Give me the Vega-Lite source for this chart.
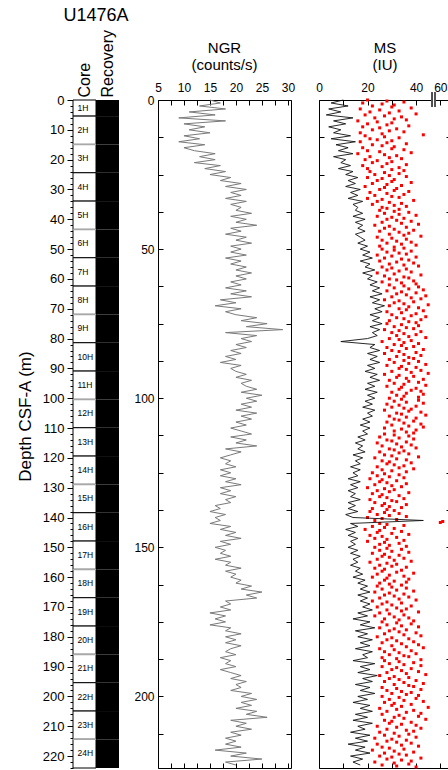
{
  "$schema": "https://vega.github.io/schema/vega-lite/v6.json",
  "autosize": {"type": "none"},
  "padding": {"left": 73, "top": 100, "right": 375, "bottom": 2},
  "background": "white",
  "config": {
    "font": "Liberation Sans",
    "view": {"stroke": "black", "strokeWidth": 1},
    "axis": {"grid": false, "labelColor": "black", "tickColor": "black", "titleColor": "black", "labelFlush": false, "labelOverlap": false, "domain": false},
    "title": {"fontWeight": "normal", "color": "black"}
  },
  "data": {
    "values": "d,n,m,a,b,c\n0,15,10,20,28,35\n1,17,5,18,26,31\n2,13,12,22,30,38\n3,18,4,17,25,33\n4,11,9,21,29,40\n5,16,3,19,27,34\n6,9,14,23,31,36\n7,18,6,16,24,30\n8,10,11,20,28,37\n9,14,4,18,25,32\n10,11,9,22,29,35\n11,15,6,17,26,43\n12,10,13,19,27,33\n13,13,5,21,24,30\n14,9,15,17,28,36\n15,14,7,22,26,31\n16,10,12,18,30,35\n17,12,8,20,25,38\n18,16,14,16,27,32\n19,13,6,21,29,34\n20,16,11,19,24,30\n21,12,9,22,28,36\n22,17,13,18,26,33\n23,14,8,20,30,35\n24,18,14,21,27,33\n25,15,11,23,29,36\n26,19,16,20,26,31\n27,17,12,24,30,38\n28,21,15,22,28,34\n29,18,11,19,27,32\n30,22,17,25,31,37\n31,19,13,21,28,35\n32,21,16,23,30,33\n33,18,12,20,26,39\n34,22,18,24,29,34\n35,19,14,22,31,36\n36,21,16,26,28,33\n37,20,15,25,31,37\n38,23,18,27,33,40\n39,19,14,24,30,35\n40,22,19,28,32,38\n41,20,15,26,34,41\n42,24,18,23,29,36\n43,19,16,27,31,39\n44,21,19,25,33,37\n45,18,15,29,35,42\n46,22,17,24,30,36\n47,20,19,26,32,38\n48,23,16,28,34,40\n49,19,20,25,31,35\n50,21,17,26,31,38\n51,19,21,28,33,36\n52,22,18,24,30,40\n53,18,22,27,34,37\n54,21,17,25,32,39\n55,19,21,29,35,41\n56,22,19,26,30,36\n57,20,23,28,33,38\n58,23,18,24,31,42\n59,20,22,27,35,37\n60,22,20,29,32,39\n61,19,24,26,34,40\n62,21,21,29,35,41\n63,18,25,31,37,43\n64,22,22,28,34,40\n65,19,26,32,36,44\n66,23,21,30,38,42\n67,17,25,27,33,39\n68,20,22,31,35,45\n69,16,27,29,37,41\n70,21,23,33,36,43\n71,18,26,28,34,40\n72,20,21,30,38,44\n73,24,25,32,35,42\n74,21,22,29,37,40\n75,26,26,28,34,41\n76,22,21,31,36,39\n77,29,25,27,33,42\n78,18,22,30,35,40\n79,24,24,32,37,44\n80,21,20,29,33,38\n81,23,9,26,35,41\n82,20,23,31,34,39\n83,22,21,28,36,43\n84,19,25,30,33,40\n85,21,20,27,35,42\n86,18,24,32,37,39\n87,20,21,29,35,41\n88,17,25,31,37,44\n89,21,20,28,34,40\n90,19,23,33,36,42\n91,20,19,30,38,45\n92,22,24,27,33,39\n93,20,21,32,36,43\n94,23,25,29,37,41\n95,21,20,31,35,44\n96,22,23,28,34,40\n97,24,19,33,38,42\n98,21,24,30,36,43\n99,25,20,32,35,41\n100,22,23,29,34,41\n101,24,19,31,36,43\n102,21,22,28,33,40\n103,23,18,30,35,38\n104,20,23,27,37,42\n105,24,20,32,34,44\n106,21,22,29,36,40\n107,23,18,31,33,39\n108,20,21,28,35,42\n109,22,17,30,37,43\n110,19,21,27,34,40\n111,21,18,31,36,39\n112,23,20,27,31,37\n113,19,16,25,33,39\n114,22,19,28,30,36\n115,20,15,24,32,38\n116,24,18,26,34,40\n117,18,16,29,31,35\n118,21,19,25,33,37\n119,19,14,27,30,41\n120,17,18,23,32,36\n121,19,15,26,29,38\n122,18,17,28,31,35\n123,20,13,24,33,39\n124,17,17,26,30,36\n125,19,14,22,27,33\n126,17,16,24,29,35\n127,20,12,21,26,32\n128,18,17,25,28,36\n129,21,13,23,30,34\n130,17,16,20,27,31\n131,19,12,24,29,37\n132,17,15,22,26,33\n133,20,13,25,28,35\n134,18,17,21,30,32\n135,19,12,23,27,36\n136,16,15,26,29,34\n137,17,12,22,28,31\n138,15,16,21,27,33\n139,18,11,24,29,36\n140,16,14,20,26,32\n141,17,43,23,51,50\n142,15,13,25,28,35\n143,19,16,22,27,31\n144,17,11,19,25,34\n145,20,15,24,30,37\n146,18,12,21,26,32\n147,21,16,23,28,35\n148,17,13,20,27,33\n149,19,15,25,29,36\n150,16,12,23,28,34\n151,18,16,25,30,37\n152,17,13,22,27,33\n153,19,17,26,29,35\n154,16,14,24,31,38\n155,19,16,21,28,32\n156,18,13,25,30,36\n157,21,17,23,27,34\n158,18,15,26,32,39\n159,20,18,24,29,35\n160,19,14,22,28,37\n161,21,19,27,31,36\n162,20,16,25,29,34\n163,23,20,24,30,36\n164,21,17,26,32,39\n165,25,21,23,29,35\n166,22,16,27,31,37\n167,24,20,25,33,40\n168,18,17,22,28,34\n169,19,21,26,30,38\n170,17,18,24,32,36\n171,19,22,28,34,41\n172,15,16,25,29,35\n173,18,20,23,31,37\n174,16,14,27,33,39\n175,18,21,26,32,38\n176,15,17,28,34,41\n177,19,23,25,31,36\n178,18,15,29,33,40\n179,21,20,27,35,42\n180,18,16,24,30,37\n181,20,22,28,32,39\n182,18,17,26,34,41\n183,21,21,30,36,43\n184,19,15,25,31,38\n185,18,22,27,33,40\n186,20,18,29,35,37\n187,17,20,26,32,42\n188,19,14,27,33,39\n189,18,23,29,35,42\n190,20,17,26,32,38\n191,17,21,30,34,41\n192,19,16,28,36,44\n193,21,24,25,31,37\n194,19,18,29,33,40\n195,22,22,27,35,43\n196,20,15,31,37,39\n197,21,21,26,32,42\n198,19,17,28,34,38\n199,23,23,30,36,41\n200,21,16,26,33,40\n201,24,20,29,35,43\n202,21,14,27,31,38\n203,23,21,30,34,45\n204,20,17,25,32,39\n205,24,22,28,36,42\n206,22,15,26,33,41\n207,26,20,31,35,44\n208,19,14,27,30,38\n209,22,22,29,34,40\n210,20,16,24,32,42\n211,23,19,28,36,39\n212,19,13,25,31,37\n213,21,21,27,33,40\n214,18,15,23,30,36\n215,20,20,28,32,38\n216,18,12,24,34,41\n217,21,19,26,29,35\n218,16,15,22,31,39\n219,22,21,27,33,36\n220,19,13,25,30,42\n221,25,18,28,34,38\n222,18,14,23,31,37\n223,20,17,26,32,40",
    "format": {"type": "csv", "parse": {"d": "number", "n": "number", "m": "number", "a": "number", "b": "number", "c": "number"}}
  },
  "bounds": "flush",
  "spacing": 39,
  "hconcat": [
    {
      "width": 46,
      "height": 668,
      "view": {"stroke": null},
      "title": {"text": "U1476A", "fontSize": 18, "offset": 4},
      "data": {
        "values": [
          {"core": "1H", "top": 0, "bot": 5.4, "edge": "black"},
          {"core": "2H", "top": 5.4, "bot": 14.9, "edge": "black"},
          {"core": "3H", "top": 14.9, "bot": 24.4, "edge": "gray"},
          {"core": "4H", "top": 24.4, "bot": 33.9, "edge": "black"},
          {"core": "5H", "top": 33.9, "bot": 43.4, "edge": "black"},
          {"core": "6H", "top": 43.4, "bot": 52.9, "edge": "gray"},
          {"core": "7H", "top": 52.9, "bot": 62.4, "edge": "black"},
          {"core": "8H", "top": 62.4, "bot": 71.9, "edge": "black"},
          {"core": "9H", "top": 71.9, "bot": 81.4, "edge": "gray"},
          {"core": "10H", "top": 81.4, "bot": 90.9, "edge": "black"},
          {"core": "11H", "top": 90.9, "bot": 100.4, "edge": "black"},
          {"core": "12H", "top": 100.4, "bot": 109.9, "edge": "gray"},
          {"core": "13H", "top": 109.9, "bot": 119.4, "edge": "black"},
          {"core": "14H", "top": 119.4, "bot": 128.9, "edge": "black"},
          {"core": "15H", "top": 128.9, "bot": 138.4, "edge": "gray"},
          {"core": "16H", "top": 138.4, "bot": 147.9, "edge": "black"},
          {"core": "17H", "top": 147.9, "bot": 157.4, "edge": "black"},
          {"core": "18H", "top": 157.4, "bot": 166.9, "edge": "gray"},
          {"core": "19H", "top": 166.9, "bot": 176.4, "edge": "black"},
          {"core": "20H", "top": 176.4, "bot": 185.9, "edge": "black"},
          {"core": "21H", "top": 185.9, "bot": 195.4, "edge": "gray"},
          {"core": "22H", "top": 195.4, "bot": 204.9, "edge": "black"},
          {"core": "23H", "top": 204.9, "bot": 214.4, "edge": "black"},
          {"core": "24H", "top": 214.4, "bot": 224, "edge": "gray"}
        ]
      },
      "layer": [
        {
          "mark": {"type": "rect", "fill": "black"},
          "encoding": {
            "x": {"datum": "Recovery", "type": "nominal",
              "scale": {"domain": ["Core", "Recovery"], "paddingInner": 0, "paddingOuter": 0},
              "axis": {"orient": "top", "title": null, "labelAngle": -90, "labelFontSize": 16, "ticks": false, "labelPadding": 3}},
            "y": {"field": "top", "type": "quantitative", "scale": {"domain": [0, 224], "reverse": true, "nice": false},
              "axis": {"orient": "left", "values": [0, 10, 20, 30, 40, 50, 60, 70, 80, 90, 100, 110, 120, 130, 140, 150, 160, 170, 180, 190, 200, 210, 220],
                "title": "Depth CSF-A (m)", "titleFontSize": 17, "titleFontWeight": "normal", "titlePadding": 8, "titleY": 316,
                "labelFontSize": 13, "tickSize": 6, "labelPadding": 3}},
            "y2": {"field": "bot"}
          }
        },
        {
          "mark": {"type": "rect", "fill": "white", "stroke": "black", "strokeWidth": 1},
          "encoding": {
            "x": {"datum": "Core", "type": "nominal"},
            "y": {"field": "top", "type": "quantitative",
              "axis": {"orient": "left", "tickCount": 112, "labels": false, "title": null, "tickSize": 3}},
            "y2": {"field": "bot"}
          }
        },
        {
          "transform": [{"filter": "datum.edge === 'gray'"}],
          "mark": {"type": "rect", "stroke": "#a8a8a8", "strokeWidth": 1.5},
          "encoding": {
            "x": {"datum": "Core", "type": "nominal"},
            "y": {"field": "top", "type": "quantitative", "axis": null},
            "y2": {"field": "top"}
          }
        },
        {
          "transform": [{"filter": "datum.core !== '1H'"}],
          "mark": {"type": "text", "align": "left", "baseline": "middle", "dx": -7, "dy": 14, "fontSize": 8.5, "fill": "black"},
          "encoding": {
            "x": {"datum": "Core", "type": "nominal"},
            "y": {"field": "top", "type": "quantitative", "axis": null},
            "text": {"field": "core"}
          }
        },
        {
          "transform": [{"filter": "datum.core === '1H'"}],
          "mark": {"type": "text", "align": "left", "baseline": "middle", "dx": -7, "dy": 8, "fontSize": 8.5, "fill": "black"},
          "encoding": {
            "x": {"datum": "Core", "type": "nominal"},
            "y": {"field": "top", "type": "quantitative", "axis": null},
            "text": {"field": "core"}
          }
        }
      ],
      "resolve": {"axis": {"y": "independent"}}
    },
    {
      "bounds": "flush",
      "spacing": 28,
      "hconcat": [
        {
          "width": 133,
          "height": 668,
          "title": {"text": ["NGR", "(counts/s)"], "fontSize": 15, "lineHeight": 17, "offset": 8},
          "layer": [
            {
              "mark": {"type": "line", "color": "#7a7a7a", "strokeWidth": 1},
              "encoding": {
                "x": {"field": "n", "type": "quantitative", "scale": {"domain": [5, 30.6], "nice": false},
                  "axis": {"orient": "top", "title": null, "values": [5, 7.5, 10, 12.5, 15, 17.5, 20, 22.5, 25, 27.5, 30],
                    "labelExpr": "datum.value % 5 === 0 ? datum.label : ''", "labelFontSize": 12, "tickSize": -5, "labelPadding": 11}},
                "y": {"field": "d", "type": "quantitative", "scale": {"domain": [0, 224], "reverse": true, "nice": false},
                  "axis": {"orient": "left", "title": null, "values": [0, 12.5, 25, 37.5, 50, 62.5, 75, 87.5, 100, 112.5, 125, 137.5, 150, 162.5, 175, 187.5, 200, 212.5],
                    "labelExpr": "datum.value % 50 === 0 ? datum.label : ''", "labelFontSize": 12, "tickSize": -5, "labelPadding": 9}},
                "order": {"field": "d"}
              }
            },
            {
              "mark": {"type": "line", "opacity": 0},
              "encoding": {
                "x": {"field": "n", "type": "quantitative",
                  "axis": {"orient": "bottom", "title": null, "values": [5, 7.5, 10, 12.5, 15, 17.5, 20, 22.5, 25, 27.5, 30], "labels": false, "tickSize": -5}},
                "y": {"field": "d", "type": "quantitative",
                  "axis": {"orient": "right", "title": null, "values": [0, 12.5, 25, 37.5, 50, 62.5, 75, 87.5, 100, 112.5, 125, 137.5, 150, 162.5, 175, 187.5, 200, 212.5], "labels": false, "tickSize": -5}},
                "order": {"field": "d"}
              }
            }
          ],
          "resolve": {"axis": {"x": "independent", "y": "independent"}}
        },
        {
          "width": 132,
          "height": 668,
          "title": {"text": ["MS", "(IU)"], "fontSize": 15, "lineHeight": 17, "offset": 8},
          "layer": [
            {
              "mark": {"type": "square", "color": "red", "size": 9, "opacity": 1},
              "encoding": {
                "x": {"field": "a", "type": "quantitative", "scale": {"domain": [0, 54.4], "nice": false},
                  "axis": {"orient": "top", "title": null, "values": [0, 10, 20, 30, 40, 50],
                    "labelExpr": "datum.value === 50 ? '60' : (datum.value % 20 === 0 ? datum.label : '')", "labelFontSize": 12, "tickSize": -5, "labelPadding": 11}},
                "y": {"field": "d", "type": "quantitative", "scale": {"domain": [0, 224], "reverse": true, "nice": false},
                  "axis": {"orient": "left", "title": null, "values": [0, 12.5, 25, 37.5, 50, 62.5, 75, 87.5, 100, 112.5, 125, 137.5, 150, 162.5, 175, 187.5, 200, 212.5], "labels": false, "tickSize": -5}}
              }
            },
            {
              "mark": {"type": "square", "color": "red", "size": 9, "opacity": 1, "yOffset": 1},
              "encoding": {
                "x": {"field": "b", "type": "quantitative", "axis": null},
                "y": {"field": "d", "type": "quantitative", "axis": null}
              }
            },
            {
              "mark": {"type": "square", "color": "red", "size": 9, "opacity": 1, "yOffset": 2},
              "encoding": {
                "x": {"field": "c", "type": "quantitative", "axis": null},
                "y": {"field": "d", "type": "quantitative", "axis": null}
              }
            },
            {
              "mark": {"type": "line", "color": "#111", "strokeWidth": 0.9},
              "encoding": {
                "x": {"field": "m", "type": "quantitative",
                  "axis": {"orient": "bottom", "title": null, "values": [0, 10, 20, 30, 40, 50], "labels": false, "tickSize": -5}},
                "y": {"field": "d", "type": "quantitative",
                  "axis": {"orient": "right", "title": null, "values": [0, 12.5, 25, 37.5, 50, 62.5, 75, 87.5, 100, 112.5, 125, 137.5, 150, 162.5, 175, 187.5, 200, 212.5], "labels": false, "tickSize": -5}},
                "order": {"field": "d"}
              }
            },
            {
              "mark": {"type": "rect", "fill": "white"},
              "encoding": {
                "x": {"datum": 46.5, "type": "quantitative", "axis": null},
                "x2": {"datum": 47.7},
                "y": {"datum": -1.2, "type": "quantitative", "axis": null},
                "y2": {"datum": 1.2}
              }
            },
            {
              "mark": {"type": "rule", "color": "#555", "strokeWidth": 1},
              "encoding": {
                "x": {"datum": 46.4, "type": "quantitative", "axis": null},
                "y": {"datum": -2.4, "type": "quantitative", "axis": null},
                "y2": {"datum": 2.2}
              }
            },
            {
              "mark": {"type": "rule", "color": "#555", "strokeWidth": 1},
              "encoding": {
                "x": {"datum": 47.8, "type": "quantitative", "axis": null},
                "y": {"datum": -2.4, "type": "quantitative", "axis": null},
                "y2": {"datum": 2.2}
              }
            }
          ],
          "resolve": {"axis": {"x": "independent", "y": "independent"}}
        }
      ]
    }
  ]
}
